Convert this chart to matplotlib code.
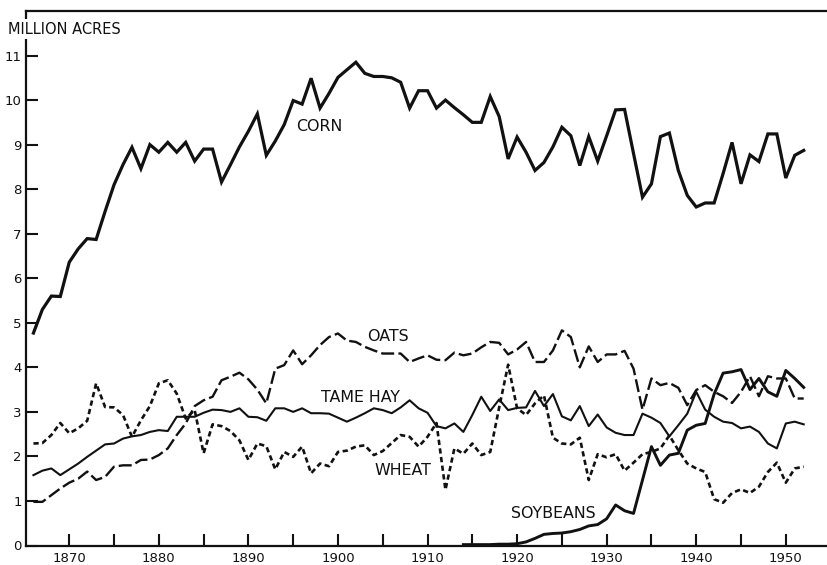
import numpy as np
import matplotlib.pyplot as plt
from matplotlib.ticker import FixedLocator, FuncFormatter

years = list(range(1866, 1953))

corn = [4.77, 5.3, 5.6, 5.59,
        6.36, 6.66, 6.89, 6.87, 7.5, 8.1, 8.55, 8.94, 8.46, 9.0,
        8.83, 9.05, 8.83, 9.05, 8.63, 8.9, 8.9, 8.16, 8.55, 8.95,
        9.3, 9.69, 8.76, 9.08, 9.45, 9.99, 9.91, 10.49, 9.82, 10.15,
        10.51, 10.68, 10.85, 10.6, 10.53, 10.53, 10.5, 10.4, 9.82, 10.21,
        10.21, 9.82, 10.0, 9.83, 9.67, 9.5, 9.5, 10.08, 9.63, 8.68,
        9.17, 8.83, 8.42, 8.6, 8.95, 9.39, 9.2, 8.53, 9.18, 8.63,
        9.2, 9.78, 9.79, 8.8, 7.82, 8.12, 9.18, 9.26, 8.42, 7.86,
        7.6, 7.69, 7.69, 8.35, 9.05, 8.12, 8.77, 8.62, 9.24, 9.24,
        8.25, 8.76, 8.87]

oats = [0.98, 0.98, 1.13, 1.28,
        1.41, 1.5, 1.66, 1.47, 1.54, 1.77, 1.8, 1.8, 1.92, 1.93,
        2.03, 2.18, 2.48, 2.74, 3.13, 3.26, 3.34, 3.71, 3.79, 3.88,
        3.73, 3.5, 3.19, 3.97, 4.05, 4.38, 4.07, 4.27, 4.5, 4.68,
        4.76, 4.6, 4.57, 4.46, 4.38, 4.31, 4.31, 4.31, 4.12, 4.2,
        4.27, 4.17, 4.16, 4.33, 4.27, 4.31, 4.45, 4.57, 4.55, 4.29,
        4.4, 4.57, 4.12, 4.12, 4.38, 4.83, 4.68, 4.0, 4.47, 4.12,
        4.29, 4.29, 4.37, 3.97, 3.05, 3.75, 3.6, 3.65, 3.54, 3.15,
        3.49, 3.6, 3.45, 3.35, 3.2, 3.45, 3.8, 3.35, 3.8, 3.75,
        3.75, 3.3, 3.3]

tame_hay = [1.58, 1.68, 1.73, 1.58,
            1.71, 1.84, 1.99, 2.13, 2.27, 2.29, 2.4, 2.45, 2.48, 2.55,
            2.59, 2.57, 2.89, 2.89, 2.89, 2.98, 3.05, 3.04, 3.0, 3.08,
            2.89, 2.88, 2.8, 3.08, 3.08, 3.0, 3.08, 2.97, 2.97, 2.96,
            2.87, 2.78, 2.87, 2.97, 3.08, 3.04, 2.97, 3.1, 3.26, 3.08,
            2.98, 2.68, 2.63, 2.74, 2.55, 2.93, 3.34, 3.02, 3.28, 3.04,
            3.09, 3.1, 3.47, 3.13, 3.4, 2.9, 2.81, 3.13, 2.68, 2.94,
            2.65, 2.53, 2.48, 2.48, 2.96, 2.87, 2.75, 2.45, 2.7, 2.96,
            3.45, 3.05, 2.89, 2.78, 2.75, 2.63, 2.67, 2.55, 2.29, 2.18,
            2.74, 2.78, 2.72]

wheat = [2.29, 2.3, 2.48, 2.75,
         2.52, 2.63, 2.8, 3.64, 3.11, 3.1, 2.93, 2.44, 2.81, 3.13,
         3.64, 3.71, 3.41, 2.85, 3.04, 2.07, 2.72, 2.68, 2.57, 2.36,
         1.92, 2.29, 2.23, 1.71, 2.1, 1.99, 2.22, 1.62, 1.84, 1.78,
         2.1, 2.13, 2.22, 2.25, 2.03, 2.12, 2.3, 2.48, 2.44, 2.22,
         2.44, 2.75, 1.25, 2.18, 2.06, 2.29, 2.03, 2.1, 3.1, 4.06,
         3.08, 2.93, 3.19, 3.37, 2.42, 2.29, 2.27, 2.42, 1.47, 2.05,
         1.98, 2.05, 1.68, 1.86, 2.05, 2.1, 2.18, 2.47, 2.14, 1.84,
         1.73, 1.65, 1.04, 0.96, 1.18, 1.26, 1.18, 1.32, 1.65, 1.86,
         1.41, 1.73, 1.77]

soy_years = list(range(1914, 1953))
soybeans = [0.02, 0.02, 0.02, 0.02, 0.03, 0.03,
            0.04, 0.08, 0.16, 0.25, 0.27, 0.28, 0.31, 0.36, 0.44, 0.47,
            0.6, 0.91, 0.78, 0.72, 1.47, 2.22, 1.8, 2.03, 2.07, 2.59,
            2.7, 2.74, 3.4, 3.87, 3.9, 3.95, 3.5, 3.75, 3.45, 3.35,
            3.93, 3.75, 3.55]

ink = '#111111'
fig = plt.figure(figsize=(8.27, 5.65), dpi=100)
ax = fig.add_axes([26 / 827, 1 - 545.5 / 565, 1 - 26 / 827, 534.5 / 565])

ax.plot(years, corn, color=ink, lw=2.3, solid_joinstyle='miter')
ax.plot(years, oats, color=ink, lw=1.7, dashes=(5.5, 1.8))
ax.plot(years, tame_hay, color=ink, lw=1.5)
ax.plot(years, wheat, color=ink, lw=1.9, dashes=(2.0, 1.3))
ax.plot(soy_years, soybeans, color=ink, lw=2.1)

lab = dict(fontsize=11.4, color=ink, ha='center', va='center')
ax.text(1897.9, 9.41, 'CORN', **lab)
ax.text(1905.6, 4.70, 'OATS', **lab)
ax.text(1902.5, 3.33, 'TAME HAY', **lab)
ax.text(1907.2, 1.69, 'WHEAT', **lab)
ax.text(1924.0, 0.72, 'SOYBEANS', **lab)

ax.set_xlim(1865.17, 1954.6)
ax.set_ylim(0, 12)
ax.xaxis.set_major_locator(FixedLocator(np.arange(1870, 1951, 5)))
ax.xaxis.set_major_formatter(FuncFormatter(lambda v, p: '%d' % v if int(v) % 10 == 0 else ''))
ax.set_yticks(range(0, 12))
ax.tick_params(direction='in', length=8.5, width=1.5, colors=ink, labelsize=9.5)
ax.tick_params(axis='y', pad=3)
ax.tick_params(axis='x', pad=5)
ax.spines['right'].set_visible(False)
for s in ['left', 'bottom', 'top']:
    ax.spines[s].set_linewidth(1.6)
    ax.spines[s].set_color(ink)

fig.text(8 / 827, 1 - 29 / 565, 'MILLION ACRES', fontsize=10.5, color=ink,
         ha='left', va='center',
         bbox=dict(facecolor='white', edgecolor='none', pad=2))

fig.savefig('out.png', dpi=100)
